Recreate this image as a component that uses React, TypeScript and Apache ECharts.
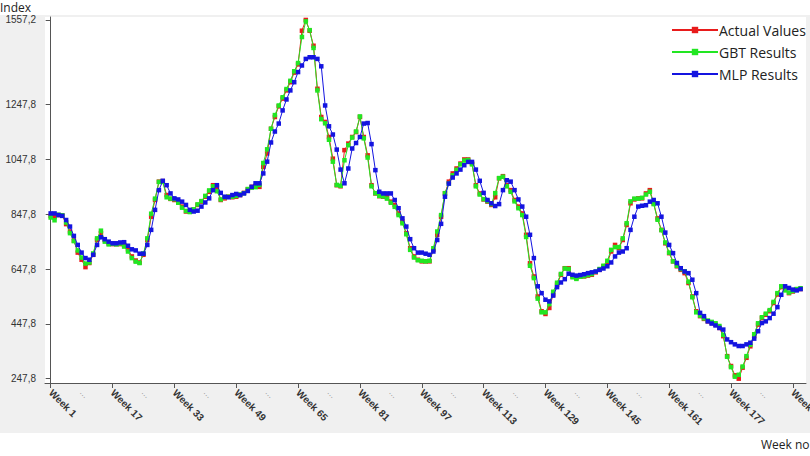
import React, { useEffect, useRef } from "react";
import * as echarts from "echarts";

const weekNumbers: number[] = Array.from({ length: 195 }, (_, i) => i + 1);
const weekLabels: string[] = weekNumbers.map((n) => `Week ${n}`);

const yTickValues = [247.8, 447.8, 647.8, 847.8, 1047.8, 1247.8, 1557.2];
const xMajorIdx = [0, 16, 32, 48, 64, 80, 96, 112, 128, 144, 160, 176, 192];
const xMinorIdx = [8, 24, 40, 56, 72, 88, 104, 120, 136, 152, 168, 184];

const actualValues = [
  842, 838, 845, 843, 812, 785, 752, 708, 682, 655,
  670, 700, 754, 779, 754, 742, 739, 739, 739, 736,
  720, 694, 679, 672, 700, 754, 839, 900, 967, 969,
  918, 904, 900, 894, 876, 858, 858, 864, 882, 894,
  912, 930, 954, 948, 900, 906, 912, 910, 912, 918,
  926, 939, 948, 951, 948, 1021, 1070, 1160, 1203, 1242,
  1270, 1300, 1330, 1365, 1395, 1518, 1557.2, 1518, 1463, 1306,
  1203, 1185, 1130, 1051, 954, 950, 1082, 1106, 1130, 1148,
  1203, 1130, 1063, 954, 924, 914, 912, 910, 894, 882,
  851, 821, 779, 724, 694, 682, 676, 676, 676, 718,
  773, 839, 924, 967, 997, 1015, 1033, 1048, 1048, 1033,
  954, 924, 902, 894, 882, 910, 979, 987, 954, 936,
  900, 876, 851, 773, 669, 621, 548, 494, 484, 506,
  555, 591, 627, 651, 651, 621, 615, 621, 621, 624,
  627, 636, 645, 658, 670, 712, 736, 724, 754, 809,
  888, 902, 906, 906, 924, 936, 888, 833, 791, 742,
  706, 676, 658, 645, 633, 597, 548, 494, 476, 466,
  457, 451, 445, 433, 403, 330, 294, 260, 247.8, 288,
  324, 366, 403, 445, 469, 481, 494, 524, 555, 582,
  573, 560, 566, 573, 575,
];

const gbtValues = [
  836, 826, 846, 844, 818, 779, 750, 716, 690, 668,
  672, 705, 760, 788, 748, 738, 740, 738, 741, 730,
  712, 688, 675, 670, 705, 760, 850, 905, 966, 966,
  910, 905, 903, 890, 872, 860, 856, 866, 884, 896,
  915, 935, 950, 932, 902, 910, 912, 912, 915, 920,
  925, 940, 945, 947, 955, 1035, 1085, 1160, 1210, 1245,
  1275, 1305, 1335, 1370, 1400, 1495, 1552, 1520, 1455, 1300,
  1195, 1180, 1120, 1040, 955, 952, 1045, 1100, 1128, 1150,
  1205, 1125, 1055, 950, 925, 915, 913, 905, 890, 875,
  845, 815, 775, 718, 690, 680, 678, 676, 678, 724,
  785, 845, 925, 960, 990, 1010, 1030, 1044, 1046, 1030,
  950, 920, 903, 896, 885, 925, 980, 985, 950, 930,
  895, 870, 845, 765, 660, 615, 540, 490, 490, 520,
  565, 598, 630, 650, 648, 618, 612, 620, 622, 626,
  630, 638, 648, 660, 678, 718, 728, 728, 760, 815,
  895, 905, 905, 908, 920, 930, 885, 828, 790, 745,
  708, 676, 660, 648, 640, 602, 545, 490, 478, 468,
  460, 455, 450, 440, 408, 328, 290, 255, 262, 292,
  330, 372, 410, 450, 472, 485, 498, 528, 560, 585,
  570, 562, 568, 575, 578,
];

const mlpValues = [
  851, 851, 845, 842, 827, 803, 769, 736, 708, 688,
  682, 700, 736, 764, 757, 748, 742, 742, 745, 746,
  733, 720, 716, 704, 704, 736, 791, 864, 936, 970,
  954, 924, 906, 902, 894, 882, 864, 858, 861, 876,
  891, 906, 936, 954, 926, 912, 910, 918, 922, 918,
  924, 933, 948, 961, 961, 997, 1040, 1110, 1150, 1179,
  1227, 1267, 1300, 1330, 1367, 1391, 1415, 1421, 1421, 1415,
  1388, 1245, 1169, 1139, 1084, 1011, 961, 1015, 1088, 1108,
  1130, 1179, 1181, 1104, 1009, 930, 924, 924, 924, 900,
  870, 833, 803, 757, 724, 708, 708, 704, 700, 712,
  754, 813, 912, 960, 982, 997, 1011, 1027, 1039, 1039,
  1011, 970, 926, 900, 888, 878, 885, 936, 972, 967,
  936, 902, 876, 839, 773, 688, 585, 560, 536, 530,
  551, 582, 599, 611, 631, 627, 624, 626, 629, 633,
  636, 639, 645, 650, 658, 672, 694, 708, 712, 724,
  791, 839, 876, 879, 881, 894, 900, 888, 839, 781,
  736, 706, 670, 651, 639, 633, 609, 560, 488, 476,
  457, 449, 442, 433, 427, 391, 381, 373, 367, 367,
  373, 379, 394, 421, 451, 457, 469, 485, 509, 554,
  585, 579, 573, 570, 575,
];

const seriesNames = ["Actual Values", "GBT Results", "MLP Results"];
const seriesColors = ["#e81c1c", "#22e622", "#1414e0"];

export default function App() {
  const ref = useRef<HTMLDivElement>(null);
  useEffect(() => {
    if (!ref.current) return;
    const chart = echarts.init(ref.current, undefined, { renderer: "svg" });
    const toPairs = (arr: number[]) => arr.map((v, i) => [i, v]);
    const datasets = [actualValues, gbtValues, mlpValues];
    chart.setOption({
      animation: false,
      backgroundColor: "#ffffff",
      graphic: [
        { type: "rect", z: -20, silent: true, shape: { x: 0, y: 15, width: 810, height: 418 }, style: { fill: "#f0f0f0" } },
        { type: "rect", z: -19, silent: true, shape: { x: 45, y: 17, width: 761, height: 366 }, style: { fill: "#ffffff" } },
        { type: "text", left: 0, top: 1, style: { text: "Index", fontSize: 12, fill: "#222", fontFamily: "Open Sans" } },
        { type: "text", left: 761, top: 438, style: { text: "Week no", fontSize: 12, fill: "#222", fontFamily: "Open Sans" } },
      ],
      legend: {
        orient: "vertical",
        left: 666,
        top: 18,
        itemWidth: 46,
        itemHeight: 8,
        itemGap: 8,
        textStyle: { fontSize: 14, lineHeight: 14, color: "#222", fontFamily: "Open Sans", padding: [0, 0, 0, -4] },
        data: seriesNames,
      },
      grid: { left: 45, right: 4, top: 17, bottom: 73, containLabel: false, outerBoundsMode: "none" },
      xAxis: {
        type: "value",
        min: -1.47,
        max: 195.4,
        splitLine: { show: false },
        axisLine: { lineStyle: { color: "#555", width: 1 } },
        axisTick: { customValues: xMajorIdx, length: 5, lineStyle: { color: "#555" } },
        axisLabel: {
          customValues: [...xMajorIdx, ...xMinorIdx].sort((a, b) => a - b),
          rotate: -45,
          margin: 8,
          hideOverlap: false,
          formatter: (v: number) =>
            xMajorIdx.includes(Math.round(v)) ? `{w|${weekLabels[Math.round(v)]}}` : "{d|...}",
          rich: {
            w: { fontSize: 10, fontWeight: "bold", color: "#333", fontFamily: "Arial" },
            d: { fontSize: 9, color: "#999", fontFamily: "Arial" },
          },
        },
      },
      yAxis: {
        type: "value",
        min: 232,
        max: 1568,
        splitLine: { show: false },
        axisLine: { show: true, lineStyle: { color: "#555", width: 1 } },
        axisTick: { show: true, customValues: yTickValues, length: 5, lineStyle: { color: "#555" } },
        axisLabel: {
          customValues: yTickValues,
          margin: 9,
          fontSize: 10,
          color: "#333",
          fontFamily: "Arial",
          formatter: (v: number) => v.toFixed(1).replace(".", ","),
        },
      },
      series: datasets.map((arr, k) => ({
        name: seriesNames[k],
        type: "line",
        data: toPairs(arr),
        symbol: "rect",
        symbolSize: 4.5,
        showSymbol: true,
        color: seriesColors[k],
        lineStyle: { width: 1, color: seriesColors[k] },
        itemStyle: { color: seriesColors[k] },
        z: 2 + k,
      })),
    });
    return () => chart.dispose();
  }, []);
  return (
    <div
      ref={ref}
      style={{ position: "fixed", left: 0, top: 0, width: 810, height: 456 }}
    />
  );
}
